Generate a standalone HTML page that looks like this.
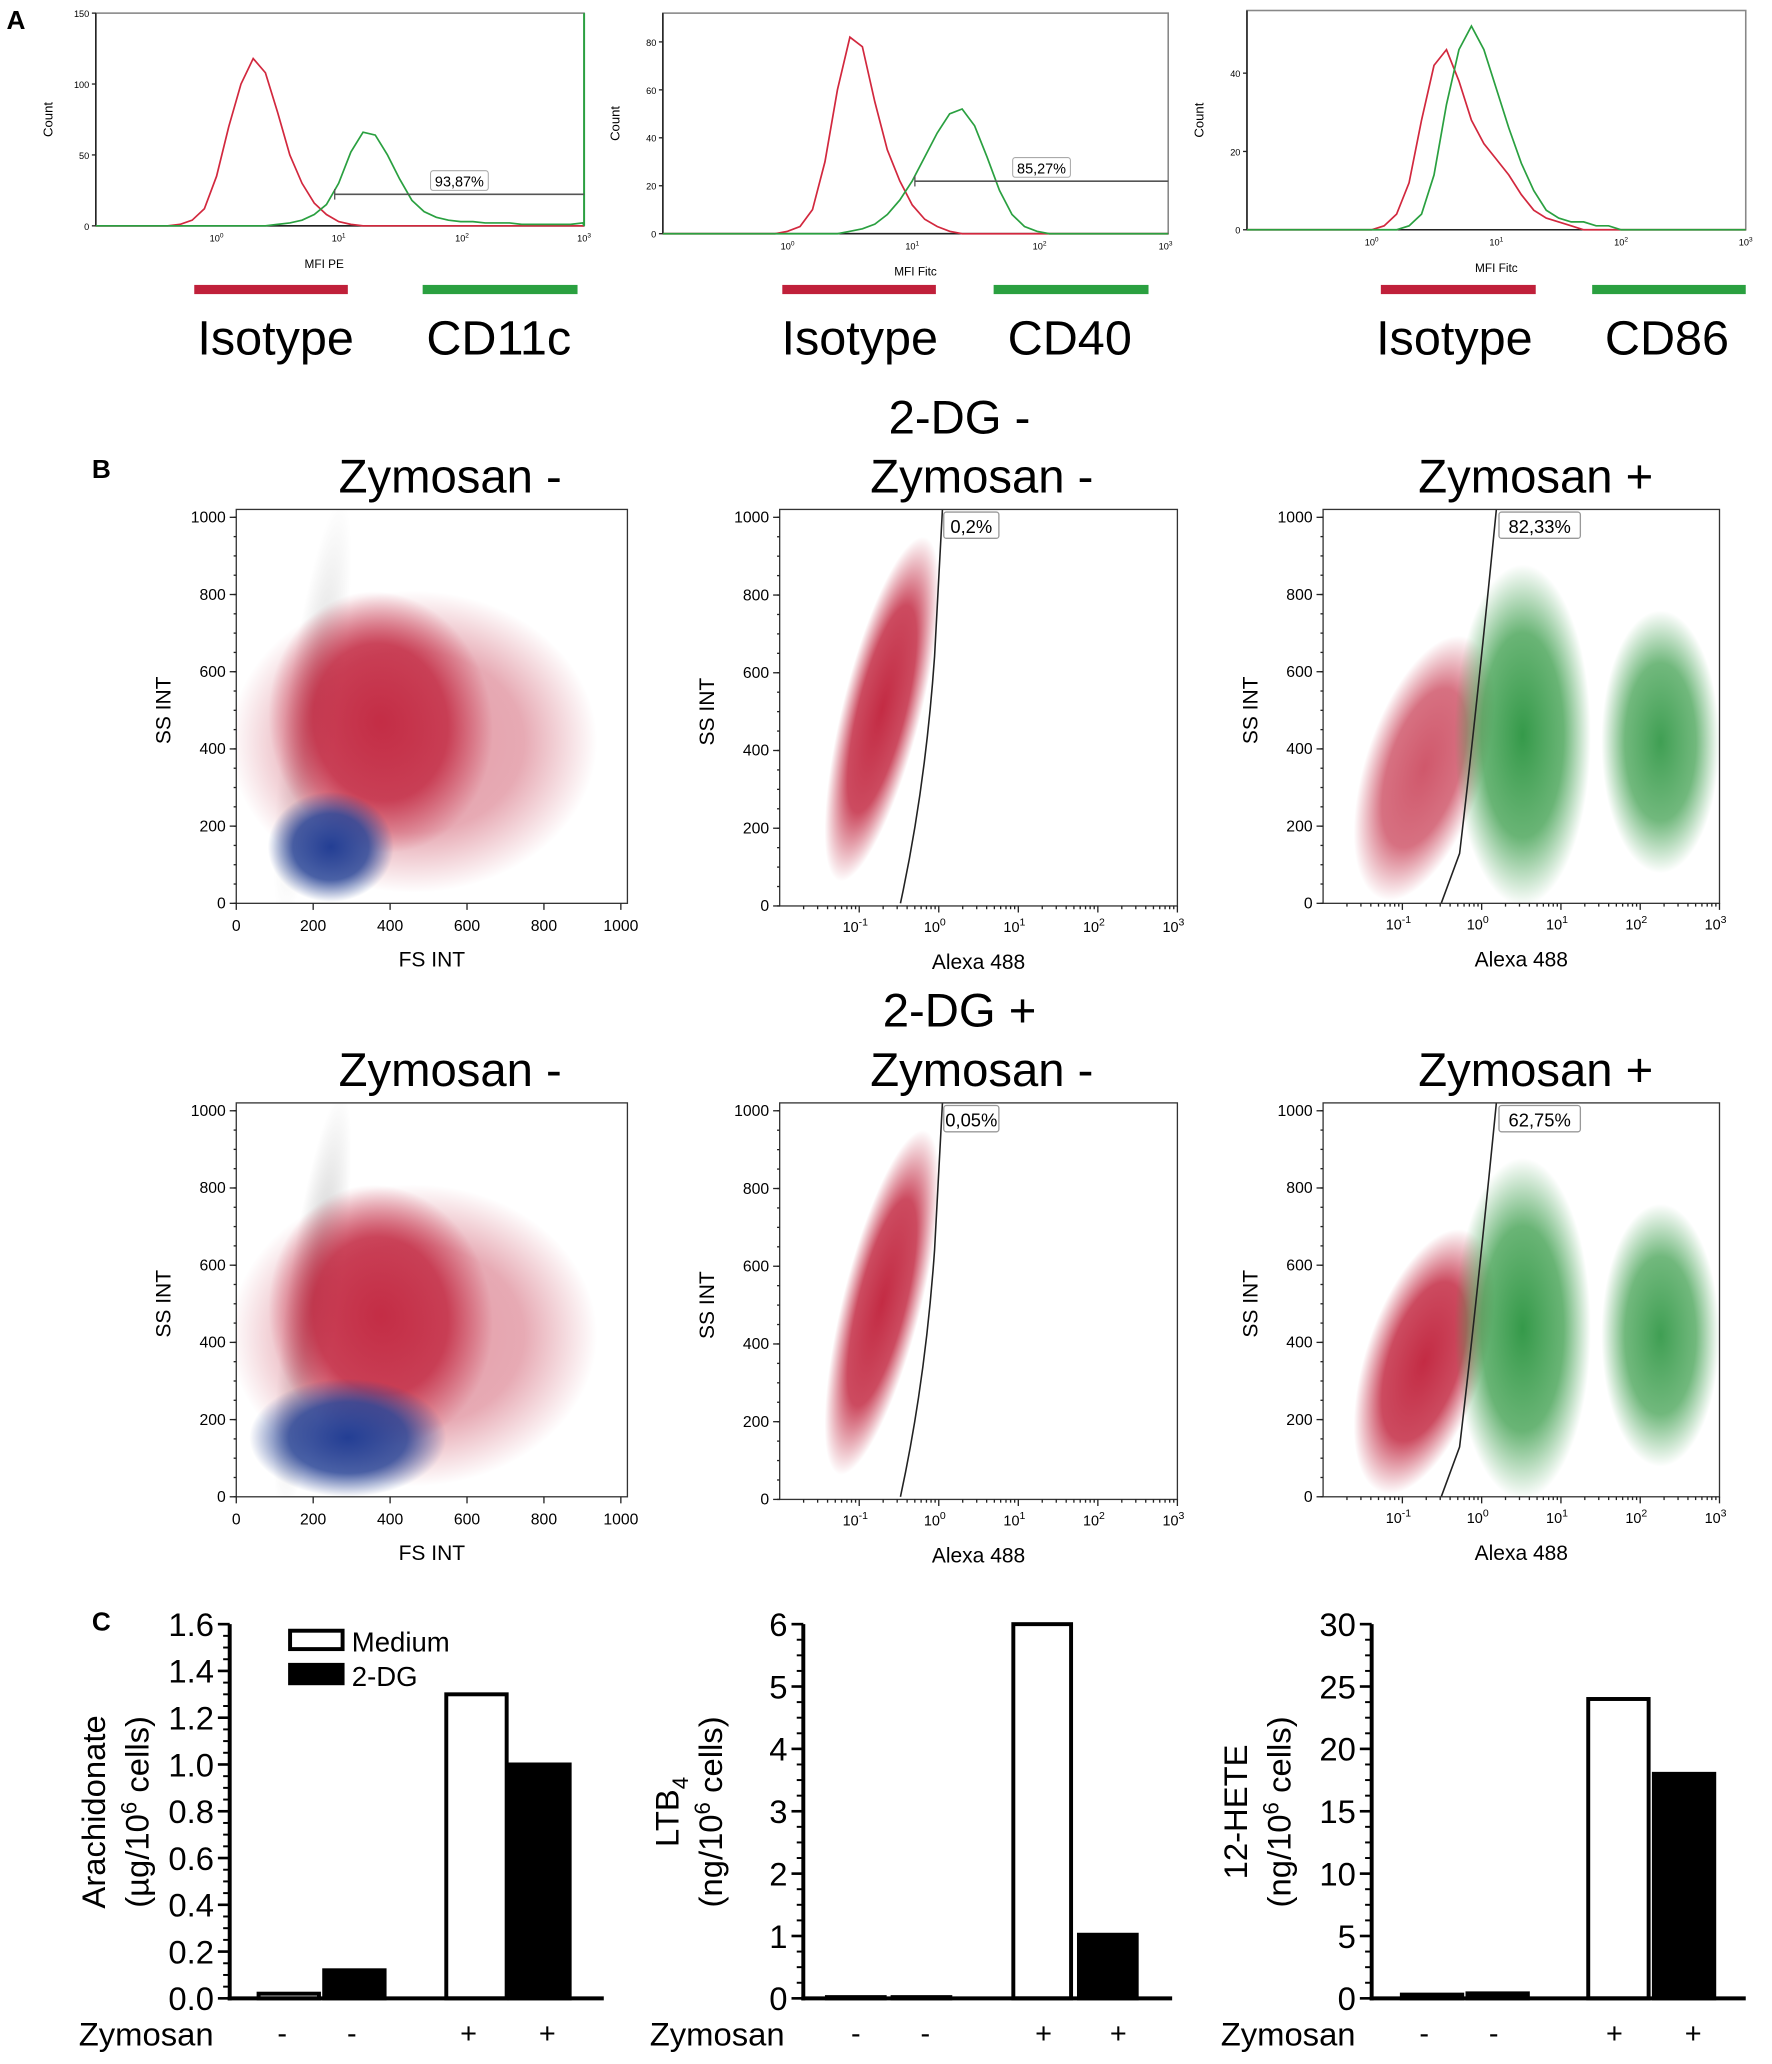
<!DOCTYPE html>
<html><head><meta charset="utf-8">
<style>
html,body{margin:0;padding:0;background:#fff;}
svg{display:block;}
text{font-family:"Liberation Sans","DejaVu Sans",sans-serif;}
</style></head>
<body>
<svg id="fig" width="1772" height="2064" viewBox="0 0 1350 1572" preserveAspectRatio="none" xmlns="http://www.w3.org/2000/svg">
<defs>
<radialGradient id="gRed"><stop offset="0" stop-color="#c0203a" stop-opacity="1"/><stop offset="0.6" stop-color="#c0203a" stop-opacity="0.85"/><stop offset="1" stop-color="#c0203a" stop-opacity="0"/></radialGradient>
<radialGradient id="gBlue"><stop offset="0" stop-color="#233e94" stop-opacity="1"/><stop offset="0.6" stop-color="#2a4596" stop-opacity="0.85"/><stop offset="1" stop-color="#2a4596" stop-opacity="0"/></radialGradient>
<radialGradient id="gGreen"><stop offset="0" stop-color="#2a9440" stop-opacity="1"/><stop offset="0.6" stop-color="#3a9d4a" stop-opacity="0.8"/><stop offset="1" stop-color="#3a9d4a" stop-opacity="0"/></radialGradient>
<radialGradient id="gGray"><stop offset="0" stop-color="#999" stop-opacity="0.7"/><stop offset="1" stop-color="#aaa" stop-opacity="0"/></radialGradient>
</defs>
<g id="root"></g>
</svg>
<script>
// ---------- Panel A histogram data (log10 x from -0.4 step 0.1) ----------
const histStart = -0.4, histStep = 0.1;
const cd11cIso = [0,1,4,12,35,70,100,118,108,80,50,30,16,8,3,1,0,0,0,0,0,0,0,0,0,0,0,0,0,0,0,0,0,0,0];
const cd11cPos = [0,0,0,0,0,0,0,0,0,1,2,4,8,15,30,52,66,64,50,33,18,10,6,4,3,3,2,2,2,1,1,1,1,1,2];
const cd40Iso  = [0,0,0,0,1,3,10,30,60,82,78,55,35,22,12,6,3,1,0,0,0,0,0,0,0,0,0,0,0,0,0,0,0,0,0];
const cd40Pos  = [0,0,0,0,0,0,0,0,0,1,2,4,8,14,22,32,42,50,52,45,32,18,8,3,1,0,0,0,0,0,0,0,0,0,0];
const cd86Iso  = [0,0,0,0,0,1,4,12,28,42,46,38,28,22,18,14,9,5,3,2,1,0,0,0,0,0,0,0,0,0,0,0,0,0,0];
const cd86Pos  = [0,0,0,0,0,0,0,1,4,14,32,46,52,46,36,26,17,10,5,3,2,2,1,1,0,0,0,0,0,0,0,0,0,0,0];
const gateLabels = ["93,87%","85,27%",""];
// ---------- Panel C bar data ----------
const zymCats = ["-","-","+","+"];
const arachValues = [0.02,0.12,1.30,1.00];
const ltb4Values = [0.02,0.02,6.0,1.02];
const heteValues = [0.3,0.4,24,18];
const arachTicks = ["0.0","0.2","0.4","0.6","0.8","1.0","1.2","1.4","1.6"];
const ltb4Ticks = ["0","1","2","3","4","5","6"];
const heteTicks = ["0","5","10","15","20","25","30"];
const percentB = ["0,2%","82,33%","0,05%","62,75%"];

const NS="http://www.w3.org/2000/svg";
const root=document.getElementById('root');
const defs=document.querySelector('defs');
function mk(tag,attrs,parent,txt){const e=document.createElementNS(NS,tag);for(const k in attrs)e.setAttribute(k,attrs[k]);if(txt!==undefined)e.textContent=txt;(parent||root).appendChild(e);return e;}

let t;
t=mk('text',{x:5,y:22,'font-size':20,'font-weight':'bold'},root,'A');

t=mk('text',{x:70,y:364,'font-size':20,'font-weight':'bold'},root,'B');

t=mk('text',{x:70,y:1242,'font-size':20,'font-weight':'bold'},root,'C');


// ---------- Panel A ----------
const hcfg=[
 {x0:73,x1:445,yTop:10,y0:172,ymax:150,ticks:[0,50,100,150],dec:[165,258,352,445],iso:cd11cIso,pos:cd11cPos,xl:'MFI PE',gateY:148,gateX:255,lab:'CD11c',red:[148,265],green:[322,440],lx:[210,380],name:'cd11c'},
 {x0:505,x1:890,yTop:10,y0:178,ymax:92,ticks:[0,20,40,60,80],dec:[600,695,792,888],iso:cd40Iso,pos:cd40Pos,xl:'MFI Fitc',gateY:138,gateX:697,lab:'CD40',red:[596,713],green:[757,875],lx:[655,815],name:'cd40'},
 {x0:950,x1:1330,yTop:8,y0:175,ymax:56,ticks:[0,20,40],dec:[1045,1140,1235,1330],iso:cd86Iso,pos:cd86Pos,xl:'MFI Fitc',gateY:null,lab:'CD86',red:[1052,1170],green:[1213,1330],lx:[1108,1270],name:'cd86'}
];
hcfg.forEach((c,i)=>{
 const g=mk('g',{});
 
 const xs=v=>c.dec[0]+(v)*(c.dec[1]-c.dec[0]);
 const ys=v=>c.y0-v/c.ymax*(c.y0-c.yTop);
 mk('rect',{x:c.x0,y:c.yTop,width:c.x1-c.x0,height:c.y0-c.yTop,fill:'none',stroke:'#888','stroke-width':1.2},g);
 mk('line',{x1:c.x0,y1:c.y0,x2:c.x1,y2:c.y0,stroke:'#222','stroke-width':1.2},g);
 mk('line',{x1:c.x0,y1:c.yTop,x2:c.x0,y2:c.y0,stroke:'#222','stroke-width':1.2},g);
 c.ticks.forEach(v=>{mk('line',{x1:c.x0-3,y1:ys(v),x2:c.x0,y2:ys(v),stroke:'#222'},g);
  mk('text',{x:c.x0-5,y:ys(v)+3,'font-size':7,'text-anchor':'end'},g,String(v));});
 c.dec.forEach((d,k)=>{const tt=mk('text',{x:d,y:c.y0+12,'font-size':7,'text-anchor':'middle'},g,'10');mk('tspan',{dy:-3,'font-size':5},tt,String(k));});
 mk('text',{x:(c.x0+c.x1)/2+ (i==0?-12:0),y:c.y0+32,'font-size':9,'text-anchor':'middle'},g,c.xl);
 mk('text',{transform:`translate(${c.x0-33},${(c.y0+c.yTop)/2}) rotate(-90)`,'font-size':10,'text-anchor':'middle'},g,'Count');
 const path=(arr)=>{let d='M'+c.x0+','+c.y0;arr.forEach((v,k)=>{const lx=histStart+k*histStep;d+=' L'+xs(lx).toFixed(1)+','+ys(v).toFixed(1);});d+=' L'+c.x1+','+c.y0;return d;};
 const pi=mk('path',{d:path(c.iso),fill:'none',stroke:'#d2283e','stroke-width':1.3},g);
 
 const pp=mk('path',{d:path(c.pos),fill:'none',stroke:'#2aa040','stroke-width':1.3},g);
 
 if(i==0){mk('line',{x1:c.x1,y1:c.yTop,x2:c.x1,y2:c.y0,stroke:'#2aa040','stroke-width':1.5},g);}
 if(c.gateY){mk('line',{x1:c.gateX,y1:c.gateY,x2:c.x1,y2:c.gateY,stroke:'#555','stroke-width':1.2},g);
  mk('line',{x1:c.gateX,y1:c.gateY-4,x2:c.gateX,y2:c.gateY+4,stroke:'#555'},g);
  const mx=(c.gateX+c.x1)/2;mk('rect',{x:mx-22,y:c.gateY-18,width:44,height:15,fill:'#fff',stroke:'#aaa','stroke-width':0.8,rx:2},g);
  mk('text',{x:mx,y:c.gateY-6,'font-size':11,'text-anchor':'middle'},g,gateLabels[i]);}
 const rb=mk('rect',{x:c.red[0],y:217,width:c.red[1]-c.red[0],height:7,fill:'#c0203a'},g);
 
 const gb=mk('rect',{x:c.green[0],y:217,width:c.green[1]-c.green[0],height:7,fill:'#2aa040'},g);
 
 mk('text',{x:c.lx[0],y:270,'font-size':37,'text-anchor':'middle'},g,'Isotype');
 mk('text',{x:c.lx[1],y:270,'font-size':37,'text-anchor':'middle'},g,c.lab);
});

// ---------- Panel B ----------
let clipId=0;
function clipG(g,x0,y0,x1,y1){const id='clip'+(clipId++);const cp=mk('clipPath',{id},defs);mk('rect',{x:x0,y:y0,width:x1-x0,height:y1-y0},cp);return mk('g',{'clip-path':`url(#${id})`},g);}
function scatterFrame(g,x0,x1,y0,yTop,isLog,xlabel){
 mk('rect',{x:x0,y:yTop-6,width:x1-x0,height:y0-yTop+6,fill:'none',stroke:'#333','stroke-width':1},g);
 const ys=v=>y0-v/1000*(y0-yTop);
 [0,200,400,600,800,1000].forEach(v=>{mk('line',{x1:x0-5,y1:ys(v),x2:x0,y2:ys(v),stroke:'#222'},g);
  mk('text',{x:x0-8,y:ys(v)+4,'font-size':12,'text-anchor':'end'},g,String(v));});
 for(let v=0;v<=1000;v+=50){mk('line',{x1:x0-2,y1:ys(v),x2:x0,y2:ys(v),stroke:'#222'},g);}
 if(!isLog){const xs=v=>x0+v/1000*(x1-x0-5);
  [0,200,400,600,800,1000].forEach(v=>{mk('line',{x1:xs(v),y1:y0,x2:xs(v),y2:y0+5,stroke:'#222'},g);
   mk('text',{x:xs(v),y:y0+21,'font-size':12,'text-anchor':'middle'},g,String(v));});}
 else{const dec=(x1-x0)/5;
  [-1,0,1,2,3].forEach((k,j)=>{const xx=x0+dec*(j+1);mk('line',{x1:xx,y1:y0,x2:xx,y2:y0+5,stroke:'#222'},g);
   const tt=mk('text',{x:xx-3,y:y0+20,'font-size':11,'text-anchor':'middle'},g,'10');mk('tspan',{dy:-5,'font-size':8},tt,String(k));
   for(let m=2;m<10;m++){const mxx=xx-dec+dec*Math.log10(m);mk('line',{x1:mxx,y1:y0,x2:mxx,y2:y0+2.5,stroke:'#222'},g);}});}
 mk('text',{x:(x0+x1)/2,y:y0+48,'font-size':16,'text-anchor':'middle'},g,xlabel);
 mk('text',{transform:`translate(${x0-50},${(y0+yTop)/2}) rotate(-90)`,'font-size':16,'text-anchor':'middle'},g,'SS INT');
}
function ell(g,cx,cy,rx,ry,rot,fill,op){mk('ellipse',{cx,cy,rx,ry,fill:`url(#${fill})`,opacity:op||1,transform:`rotate(${rot} ${cx} ${cy})`},g);}
const rows=[0,452];
rows.forEach((dy,r)=>{
 let g=mk('g',{});
 let c=clipG(g,180,388+dy,478,688+dy);
 ell(c,238,540+dy,20,160,8,'gGray',r?0.9:0.6);
 ell(c,315,565+dy,140,115,0,'gRed',0.45);
 ell(c,290,550+dy,85,100,-10,'gRed',0.9);
 if(r==0) ell(c,252,645+dy,48,42,0,'gBlue',1); else ell(c,265,1095,75,45,0,'gBlue',1);
 scatterFrame(g,180,478,688+dy,394+dy,false,'FS INT');
 mk('text',{x:343,y:375+dy,'font-size':36,'text-anchor':'middle'},g,'Zymosan -');
 g=mk('g',{});
 c=clipG(g,594,388+dy,897,690+dy);
 ell(c,672,540+dy,30,135,14,'gRed',0.95);
 mk('path',{d:`M686,${688+dy} Q705,${600+dy} 712,${500+dy} L718,${388+dy}`,fill:'none',stroke:'#222','stroke-width':1.2},g);
 scatterFrame(g,594,897,690+dy,394+dy,true,'Alexa 488');
 mk('rect',{x:719,y:390+dy,width:42,height:20,fill:'#fff',stroke:'#999',rx:2},g);
 mk('text',{x:740,y:406+dy,'font-size':14,'text-anchor':'middle'},g,percentB[r*2]);
 mk('text',{x:748,y:375+dy,'font-size':36,'text-anchor':'middle'},g,'Zymosan -');
 mk('text',{x:731,y:330+dy,'font-size':36,'text-anchor':'middle'},g,r==0?'2-DG -':'2-DG +');
 g=mk('g',{});
 c=clipG(g,1008,388+dy,1310,688+dy);
 ell(c,1085,585+dy,45,105,18,'gRed',r?0.95:0.75);
 ell(c,1160,560+dy,52,130,0,'gGreen',0.95);
 ell(c,1265,565+dy,45,100,0,'gGreen',0.9);
 mk('path',{d:`M1098,${688+dy} L1112,${650+dy} Q1125,${540+dy} 1140,${388+dy}`,fill:'none',stroke:'#222','stroke-width':1.2},g);
 scatterFrame(g,1008,1310,688+dy,394+dy,true,'Alexa 488');
 mk('rect',{x:1142,y:390+dy,width:62,height:20,fill:'#fff',stroke:'#999',rx:2},g);
 mk('text',{x:1173,y:406+dy,'font-size':14,'text-anchor':'middle'},g,percentB[r*2+1]);
 mk('text',{x:1170,y:375+dy,'font-size':36,'text-anchor':'middle'},g,'Zymosan +');
});

// ---------- Panel C ----------
const ccfg=[
 {ax:175,x2:460,ymax:1.6,ticks:arachTicks,vals:arachValues,bars:[197,247,340,388],bw:46,label1:'Arachidonate',unit:'µg',zl:60,signs:[215,268,357,417],name:'arachidonate'},
 {ax:612,x2:893,ymax:6,ticks:ltb4Ticks,vals:ltb4Values,bars:[630,680,772,822],bw:44,label1:'LTB',sub:'4',unit:'ng',zl:495,signs:[652,705,795,852],name:'ltb4'},
 {ax:1045,x2:1330,ymax:30,ticks:heteTicks,vals:heteValues,bars:[1068,1118,1210,1260],bw:46,label1:'12-HETE',unit:'ng',zl:930,signs:[1085,1138,1230,1290],name:'12-hete'}
];
const cy0=1522,cyTop=1237;
ccfg.forEach(c=>{
 const g=mk('g',{});
 const ys=v=>cy0-v/c.ymax*(cy0-cyTop);
 c.vals.forEach((v,k)=>{const b=mk('rect',{x:c.bars[k],y:ys(v),width:c.bw,height:cy0-ys(v),fill:k%2?'#000':'#fff',stroke:'#000','stroke-width':3},g);
  });
 mk('line',{x1:c.ax,y1:cyTop,x2:c.ax,y2:cy0+1.5,stroke:'#000','stroke-width':3},g);
 mk('line',{x1:c.ax-1.5,y1:cy0,x2:c.x2,y2:cy0,stroke:'#000','stroke-width':3},g);
 const n=c.ticks.length-1;
 c.ticks.forEach((lab,k)=>{const y=cy0-k/n*(cy0-cyTop);mk('line',{x1:c.ax-9,y1:y,x2:c.ax,y2:y,stroke:'#000','stroke-width':2},g);
  mk('text',{x:c.ax-12,y:y+9,'font-size':25,'text-anchor':'end'},g,lab);});
 for(let k=0;k<n*4;k++){const y=cy0-k/(n*4)*(cy0-cyTop);mk('line',{x1:c.ax-5,y1:y,x2:c.ax,y2:y,stroke:'#000','stroke-width':1.5},g);}
 mk('text',{x:c.zl,y:1558,'font-size':25},g,'Zymosan');
 zymCats.forEach((s,k)=>mk('text',{x:c.signs[k],y:1556,'font-size':22,'text-anchor':'middle'},g,s));
 const yl=mk('text',{transform:`translate(${c.ax-95},1380) rotate(-90)`,'font-size':25,'text-anchor':'middle'},g,c.label1);
 if(c.sub)mk('tspan',{dy:7,'font-size':17},yl,c.sub);
 const yl2=mk('text',{transform:`translate(${c.ax-62},1380) rotate(-90)`,'font-size':25,'text-anchor':'middle'},g,'('+c.unit+'/10');
 mk('tspan',{dy:-9,'font-size':17},yl2,'6');mk('tspan',{dy:9},yl2,' cells)');
});
let lg=mk('g',{});
mk('rect',{x:221,y:1242,width:40,height:14,fill:'#fff',stroke:'#000','stroke-width':3},lg);
mk('text',{x:268,y:1258,'font-size':21},lg,'Medium');
mk('rect',{x:221,y:1268,width:40,height:14,fill:'#000',stroke:'#000','stroke-width':3},lg);
mk('text',{x:268,y:1284,'font-size':21},lg,'2-DG');
</script>
</body></html>
